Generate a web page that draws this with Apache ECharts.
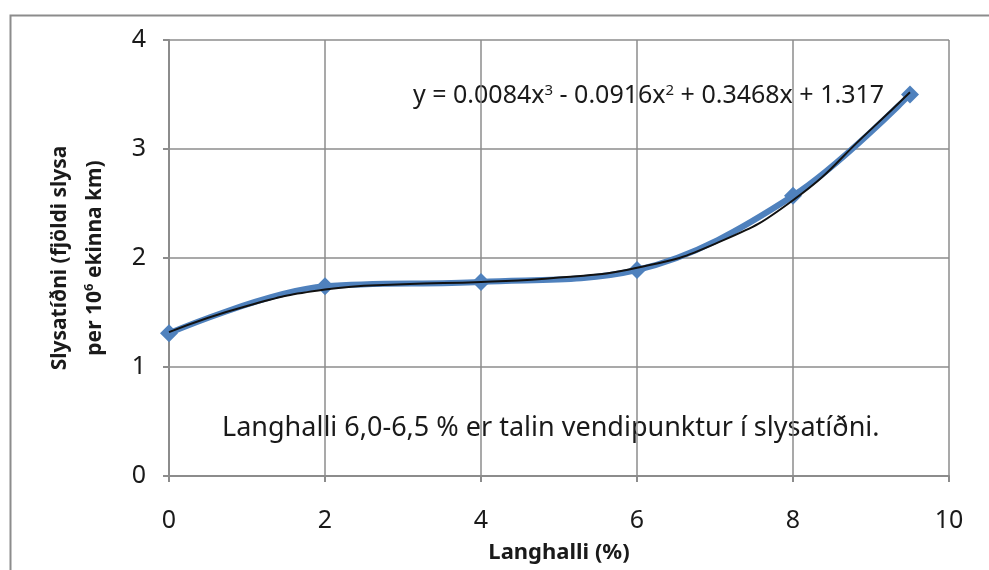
<!DOCTYPE html>
<html>
<head>
<meta charset="utf-8">
<script src="https://cdn.jsdelivr.net/npm/echarts@6/dist/echarts.min.js"></script>
<style>
  html, body { margin: 0; padding: 0; background: #fff; }
  #chart { width: 989px; height: 570px; }
</style>
</head>
<body>
<div id="chart"></div>
<script>
// measured points (Langhalli %, slysatíðni)
var gradeX = [0, 2, 4, 6, 8, 9.5];
var rateY = [1.31, 1.74, 1.78, 1.89, 2.57, 3.5];

// trend curve
var trendX = [0, 1, 2, 3, 4, 5, 6, 7, 8, 9, 9.5];
var trendY = [1.32, 1.56, 1.71, 1.76, 1.78, 1.82, 1.91, 2.13, 2.53, 3.18, 3.52];

var xTicks = [0, 2, 4, 6, 8, 10];
var yTicks = [0, 1, 2, 3, 4];

var equation = 'y = 0.0084x{sup|3} - 0.0916x{sup|2} + 0.3468x + 1.317';
var note = 'Langhalli 6,0-6,5 % er talin vendipunktur í slysatíðni.';

var font = '"Noto Sans", "Open Sans", sans-serif';
var gridColor = '#8c8c8c';
var textColor = '#1a1a1a';

function pairs(xs, ys) {
  var out = [];
  for (var i = 0; i < xs.length; i++) out.push([xs[i], ys[i]]);
  return out;
}

var chart = echarts.init(document.getElementById('chart'));

var option = {
  backgroundColor: '#fff',
  animation: false,
  grid: { left: 169, top: 40, right: 40, bottom: 94, containLabel: false },
  xAxis: {
    type: 'value',
    min: xTicks[0], max: xTicks[xTicks.length - 1], interval: 2,
    name: 'Langhalli (%)',
    nameLocation: 'middle',
    nameGap: 66,
    nameTextStyle: { fontFamily: font, fontWeight: 'bold', fontSize: 22, color: textColor },
    axisLine: { show: true, lineStyle: { color: gridColor, width: 2 } },
    axisTick: { show: true, length: 6, lineStyle: { color: gridColor, width: 2 } },
    axisLabel: { fontFamily: font, fontSize: 25, color: textColor, margin: 32 },
    splitLine: { show: true, lineStyle: { color: gridColor, width: 1.5 } }
  },
  yAxis: {
    type: 'value',
    min: yTicks[0], max: yTicks[yTicks.length - 1], interval: 1,
    name: 'Slysatíðni (fjöldi slysa\nper 10{sup|6} ekinna km)',
    nameLocation: 'middle',
    nameRotate: 90,
    nameGap: 56,
    nameTextStyle: {
      fontFamily: font, fontWeight: 'bold', fontSize: 21, color: textColor, lineHeight: 35,
      rich: { sup: { fontFamily: font, fontWeight: 'bold', fontSize: 13, color: textColor, lineHeight: 35, padding: [0, 0, 13, 0] } }
    },
    axisLine: { show: true, lineStyle: { color: gridColor, width: 2 } },
    axisTick: { show: true, length: 6, lineStyle: { color: gridColor, width: 2 } },
    axisLabel: { fontFamily: font, fontSize: 25, color: textColor, margin: 23 },
    splitLine: { show: true, lineStyle: { color: gridColor, width: 1.5 } }
  },
  series: [
    {
      name: 'Slysatíðni',
      type: 'line',
      data: pairs(gradeX, rateY),
      smooth: 0.35,
      symbol: 'diamond',
      symbolSize: 18,
      itemStyle: { color: '#4f81bd' },
      lineStyle: { color: '#4f81bd', width: 6 },
      z: 2
    },
    {
      name: 'Trend',
      type: 'line',
      data: pairs(trendX, trendY),
      smooth: true,
      showSymbol: false,
      symbol: 'none',
      lineStyle: { color: '#111', width: 2 },
      z: 3
    }
  ],
  graphic: [
    {
      type: 'rect',
      left: 8, top: 13,
      shape: { width: 1000, height: 600 },
      style: { fill: 'none', stroke: '#8c8c8c', lineWidth: 2 },
      silent: true, z: -1
    },
    {
      type: 'text',
      left: 413, top: 83,
      style: {
        text: equation,
        fontFamily: font, fontSize: 25, fill: textColor,
        rich: { sup: { fontFamily: font, fontSize: 15, fill: textColor, padding: [0, 0, 11, 0] } }
      }
    },
    {
      type: 'text',
      left: 222, top: 415,
      style: { text: note, fontFamily: font, fontSize: 27, fill: textColor }
    }
  ]
};

chart.setOption(option);

window.onresize = function () {
  chart.resize();
};
</script>
</body>
</html>
